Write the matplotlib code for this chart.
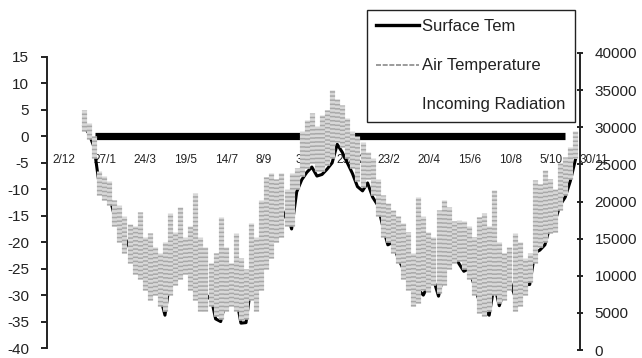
import numpy as np
import pandas as pd
import matplotlib
matplotlib.use("Agg")
import matplotlib.pyplot as plt
from matplotlib.lines import Line2D

plt.rcParams["font.family"] = ["Liberation Sans", "DejaVu Sans"]
plt.rcParams["axes.unicode_minus"] = False

# weekly air temperature range and surface temperature (deg C)
weeks = pd.date_range("1997-01-14", periods=98, freq="7D")

air_max = [5.0, 2.5, 0.0, -6.5, -7.5, -8.5, -12, -13, -15, -16.5,
           -17, -14.3, -19, -18.3, -21, -22, -20, -14.5, -18, -13.4,
           -19, -17, -10.7, -19, -21, -24, -22, -15.2, -21, -24,
           -18.3, -23, -25, -16.4, -19, -12, -7.7, -7, -8, -7,
           -10, -7, -6, 1, 3, 4.4, 2, 4, 5, 8.8,
           7, 6, 3.5, 1, 0, -1, -3, -4, -8, -11,
           -12.6, -14, -15, -16.4, -18, -22, -11.5, -15, -18, -19,
           -14, -12, -13.4, -16, -15.8, -16, -17, -19, -15.2, -14.5,
           -17, -10.1, -20, -22, -21, -18.3, -20, -23, -22, -8.2,
           -9, -6.4, -8, -10, -5, -3.9, -2, 1]

air_min = [1.0, -0.5, -4, -11, -12, -13, -17, -20, -22, -24,
           -26, -27, -29, -31, -30, -32, -33, -30, -28, -27,
           -26, -29, -31, -33, -33, -32, -34, -34.5, -33, -32,
           -33, -34.7, -34.5, -31, -33, -29, -25, -23, -20, -19,
           -17, -17, -10, -7.5, -6, -5, -6.5, -6.5, -5.5, -4,
           -1, -2, -4, -6, -8.5, -9.5, -8, -11, -15, -19,
           -20, -22, -24, -27, -29, -32, -31.5, -29, -29.5, -28,
           -29.6, -28, -25, -24, -23.5, -25, -27, -30, -33.4, -34,
           -33, -30, -31.5, -31, -29, -33, -32, -30, -27.5, -24,
           -21, -20, -18.3, -18, -14, -11, -8, -4]

surface = [2, 0.5, -2, -9, -10, -11, -15, -17, -19, -21,
           -22, -23, -26, -28, -27, -30, -33.8, -27, -25, -24,
           -23.5, -26, -28, -31, -31, -30, -34.5, -35, -31, -30,
           -30, -35.3, -35.2, -28, -26, -24, -22, -20, -18, -16,
           -14, -17.5, -10.5, -8.2, -6.8, -5.8, -7.5, -7.2, -6.2, -5,
           -1.5, -3, -5, -7, -9.5, -10.3, -8.8, -11.5, -13, -17,
           -20.5, -20, -23, -25, -27, -29, -29, -30, -28, -27,
           -30.2, -26, -22, -22, -24, -25.5, -25, -28, -31, -33,
           -33.8, -28, -32, -29, -27, -30, -30, -28, -28, -22,
           -21.5, -20.5, -17, -16, -13, -11.5, -8.5, -4.5]

# freezing reference line
zero_level = 0.0
zero_span = ["1997-01-29", "1998-11-10"]

tick_dates = ["1996-12-02", "1997-01-27", "1997-03-24", "1997-05-19",
              "1997-07-14", "1997-09-08", "1997-11-03", "1997-12-29",
              "1998-02-23", "1998-04-20", "1998-06-15", "1998-08-10",
              "1998-10-05", "1998-11-30"]
tick_labels = ["2/12", "27/1", "24/3", "19/5", "14/7", "8/9", "3/11",
               "29/12", "23/2", "20/4", "15/6", "10/8", "5/10", "30/11"]

temp_ticks = np.arange(-40, 16, 5)
rad_ticks = np.arange(0, 40001, 5000)

W, H = 642, 358
fig = plt.figure(figsize=(W / 100, H / 100), dpi=100)
ax = fig.add_axes([47 / W, (H - 348) / H, 533 / W, 291 / H])
ax2 = fig.add_axes([47 / W, (H - 350) / H, 533 / W, 297 / H])
ax2.patch.set_visible(False)

text_col = "#222222"

# thick zero line underneath the data
zs = pd.to_datetime(zero_span)
ax.plot(zs, [zero_level, zero_level], color="black", lw=5.2,
        solid_capstyle="butt", zorder=1)

# surface temperature sits under the air temperature band
ax.plot(weeks, surface, color="black", lw=2.2, zorder=2)

# air temperature: solid light band plus striped texture
ax.vlines(weeks, air_min, air_max, colors="#d8d8d8", lw=3.7, zorder=3)
ax.vlines(weeks, air_min, air_max, colors="#a8a8a8", lw=3.7,
          linestyles=(0, (0.3, 0.5)), zorder=4)

ax.set_xlim(pd.Timestamp("1996-11-24"), pd.Timestamp("1998-11-30 12:00"))
ax.set_ylim(-40, 15)
ax.set_yticks(temp_ticks)
ax.set_yticklabels([str(v) for v in temp_ticks])
ax.set_xticks(pd.to_datetime(tick_dates))
ax.set_xticklabels(tick_labels)

for s in ["top", "right"]:
    ax.spines[s].set_visible(False)
ax.spines["bottom"].set_position(("data", 0))
ax.spines["bottom"].set_visible(False)
ax.spines["left"].set_linewidth(1.4)
ax.spines["left"].set_color(text_col)
ax.tick_params(axis="x", length=0, pad=13, labelsize=8.5, colors=text_col)
ax.tick_params(axis="y", direction="out", length=4, width=1.4, pad=9,
               labelsize=11, colors=text_col)

ax2.set_ylim(0, 40000)
ax2.set_yticks(rad_ticks)
ax2.set_yticklabels([str(v) for v in rad_ticks])
ax2.yaxis.tick_right()
ax2.set_xticks([])
for s in ["top", "left", "bottom"]:
    ax2.spines[s].set_visible(False)
ax2.spines["right"].set_linewidth(1.4)
ax2.spines["right"].set_color(text_col)
ax2.tick_params(axis="y", direction="inout", length=5, width=1.4, pad=8,
                labelsize=11, colors=text_col)

handles = [
    Line2D([], [], color="black", lw=2.4),
    Line2D([], [], color="#8a8a8a", lw=1.2, ls=(0, (3, 1))),
    Line2D([], [], color="white", lw=1.2),
]
leg = fig.legend(handles, ["Surface Tem", "Air Temperature", "Incoming Radiation"],
                 loc="upper right", bbox_to_anchor=(575 / W, (H - 10) / H),
                 fontsize=12, frameon=True, fancybox=False, framealpha=1,
                 edgecolor=text_col, handlelength=2.6, handletextpad=0.2,
                 labelspacing=1.45, borderpad=0.55, borderaxespad=0)
leg.get_frame().set_linewidth(1.0)
for t in leg.get_texts():
    t.set_color(text_col)

# date labels start at their tick rather than centring on it
for lbl in ax.get_xticklabels():
    lbl.set_horizontalalignment("left")

fig.savefig("out.png", dpi=100)
